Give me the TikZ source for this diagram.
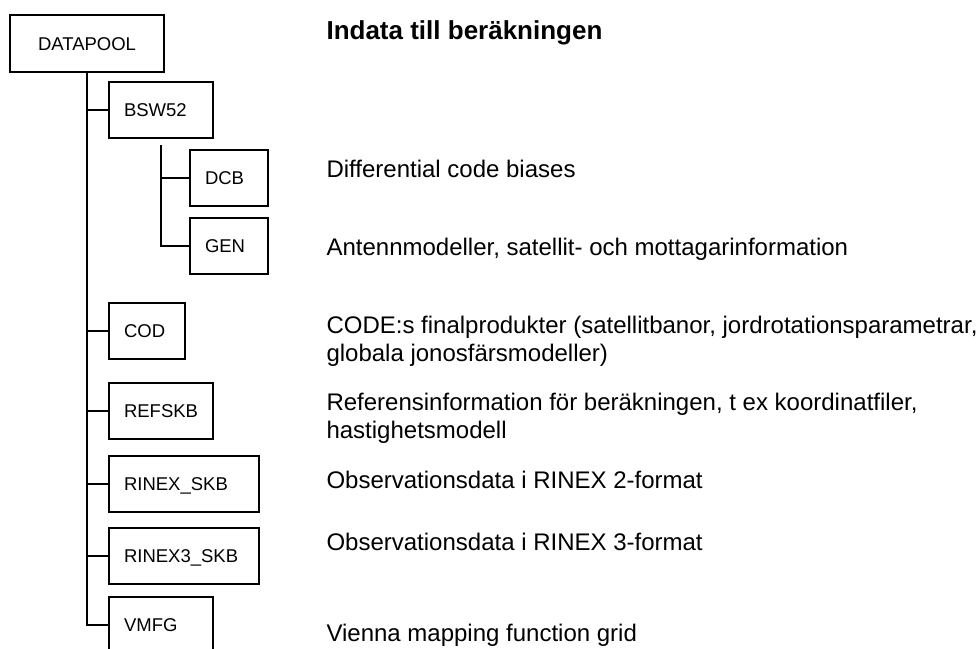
\documentclass[tikz,border=0pt]{standalone}
\usepackage{fontspec}
\setmainfont{Liberation Sans}
\usetikzlibrary{positioning}

\begin{document}
\begin{tikzpicture}[x=1pt,y=-1pt,
    box/.style={draw,line width=2pt,anchor=north west,minimum height=56pt,
        inner xsep=15pt,align=left,text height=13pt,text depth=0pt,
        font=\fontsize{18.5}{21}\selectfont},
    desc/.style={anchor=base west,align=left,font=\fontsize{24}{28}\selectfont},
    tree/.style={line width=2pt}]
    \useasboundingbox (0,0) rectangle (976,648);
    % Boxes
    \node[box,text width=124pt,align=center,minimum height=57pt] (pool) at (9,14) {DATAPOOL};
    \node[box,text width=74pt] (bsw) at (108,81) {BSW52};
    \node[box,text width=48pt] (dcb) at (189,149) {DCB};
    \node[box,text width=48pt] (gen) at (189,217) {GEN};
    \node[box,text width=46pt] (cod) at (108,302) {COD};
    \node[box,text width=74pt] (refskb) at (108,382) {REFSKB};
    \node[box,text width=120pt] (rinex) at (108,455) {RINEX\_SKB};
    \node[box,text width=120pt] (rinexthree) at (108,527) {RINEX3\_SKB};
    \node[box,text width=74pt] (vmfg) at (108,596) {VMFG};
    % Tree lines
    \draw[tree] (pool.south) -- (pool.south |- vmfg.west) -- (vmfg.west);
    \foreach \n in {bsw,cod,refskb,rinex,rinexthree}
        \draw[tree] (pool.south |- \n.west) -- (\n.west);
    \coordinate (bswfork) at ([yshift=-6pt]bsw.south);
    \draw[tree] (bswfork) -- (bswfork |- gen.west) -- (gen.west);
    \draw[tree] (bswfork |- dcb.west) -- (dcb.west);
    % Descriptions (two-line nodes sit on their last baseline)
    \node[desc,font=\fontsize{26}{30}\selectfont\bfseries] (title) at (323,39) {Indata till beräkningen};
    \node[desc] (tDcb) at (323,177) {Differential code biases};
    \node[desc] (tGen) at (323,255) {Antennmodeller, satellit- och mottagarinformation};
    \node[desc] (tCod) at (323,361) {CODE:s finalprodukter (satellitbanor, jordrotationsparametrar,\\globala jonosfärsmodeller)};
    \node[desc] (tRef) at (323,438) {Referensinformation för beräkningen, t ex koordinatfiler,\\hastighetsmodell};
    \node[desc] (tRinex) at (323,488) {Observationsdata i RINEX 2-format};
    \node[desc] (tRinexThree) at (323,550) {Observationsdata i RINEX 3-format};
    \node[desc] (tVmfg) at (323,641) {Vienna mapping function grid};
\end{tikzpicture}
\end{document}
